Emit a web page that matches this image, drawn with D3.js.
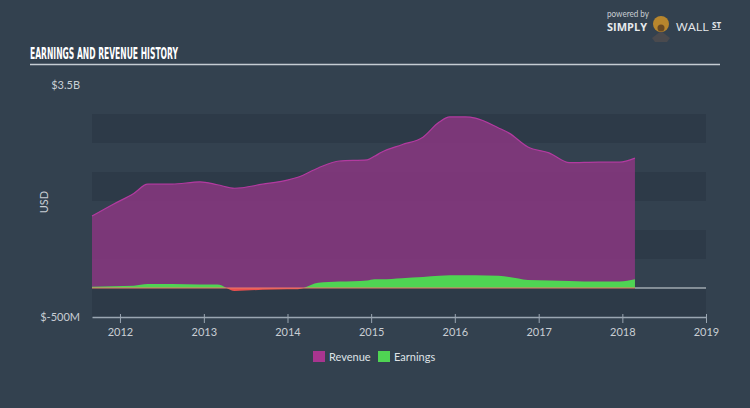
<!DOCTYPE html>
<html>
<head>
<meta charset="utf-8">
<script src="https://cdn.jsdelivr.net/npm/d3@7"></script>
<style>
  body { margin: 0; background: #33414f; }
  svg { display: block; }
</style>
</head>
<body>
<div id="chart"></div>
<script>
// data (values in $B)
const dates = ["2011-09-01","2011-12-01","2012-03-01","2012-05-01","2012-08-15","2012-12-15","2013-03-01",
  "2013-05-15","2013-09-15","2013-12-31","2014-02-15","2014-05-15","2014-08-15","2014-12-15","2015-01-15",
  "2015-02-15","2015-05-15","2015-08-15","2015-10-25","2015-12-10","2016-02-15","2016-03-31","2016-07-10",
  "2016-08-25","2016-11-15","2017-02-15","2017-05-15","2017-09-20","2017-12-20","2018-02-25"]
const revenue = [1.24,1.44,1.63,1.79,1.79,1.83,1.78,1.72,1.79,1.86,1.91,2.07,2.19,2.21,2.27,2.34,2.47,2.60,2.86,2.95,
  2.95,2.93,2.76,2.67,2.43,2.33,2.16,2.17,2.17,2.24]
const earnings = [0.02,0.03,0.04,0.07,0.07,0.06,0.06,-0.05,-0.03,-0.02,-0.02,0.09,0.11,0.13,0.15,0.15,0.17,0.19,0.21,
  0.22,0.22,0.22,0.21,0.19,0.14,0.13,0.12,0.11,0.11,0.15]
const yearTicks = [2012,2013,2014,2015,2016,2017,2018,2019]
const yLabels = ["$3.5B","$-500M"]

const w = 750, h = 408
const parse = d3.timeParse("%Y-%m-%d")
const rows = dates.map((d, i) => ({date: parse(d), rev: revenue[i], earn: earnings[i]}))

const svg = d3.select('#chart').append('svg').attr('width', w).attr('height', h)

svg.append('rect').attr('width', w).attr('height', h).attr('fill', '#33414f')

const x = d3.scaleTime()
  .domain([parse("2011-09-01"), new Date(2019, 0, 1)])
  .range([92, 706])
const y = d3.scaleLinear().domain([-0.5, 3.5]).range([317, 85])

// title (condensed look)
svg.append('text')
  .attr('x', 30).attr('y', 59)
  .attr('textLength', 148).attr('lengthAdjust', 'spacingAndGlyphs')
  .text('EARNINGS AND REVENUE HISTORY')
  .style('font-family', '"DejaVu Sans Condensed", "Liberation Sans Narrow", sans-serif')
  .style('font-weight', 'bold')
  .style('font-size', '16.5px')
  .style('fill', '#ffffff')
svg.append('line').attr('x1', 30).attr('x2', 720).attr('y1', 64.5).attr('y2', 64.5)
  .attr('stroke', '#c5ccd3').attr('stroke-width', 1.5)

// logo
svg.append('text').attr('x', 607).attr('y', 17).text('powered by')
  .attr('textLength', 42).attr('lengthAdjust', 'spacingAndGlyphs')
  .style('font-family', 'Lato, sans-serif').style('font-size', '9px').style('fill', '#c9ced4')
svg.append('text').attr('x', 607).attr('y', 31).text('SIMPLY')
  .attr('textLength', 40).attr('lengthAdjust', 'spacingAndGlyphs')
  .style('font-family', '"Open Sans", sans-serif').style('font-weight', 'bold').style('font-size', '11px').style('fill', '#e6e9ec')
svg.append('path').attr('d', 'M652 38 L661 31 L670 38 L667 42 L655 42 Z').attr('fill', '#4a4a4e')
svg.append('circle').attr('cx', 661).attr('cy', 24).attr('r', 8).attr('fill', '#b8862d')
svg.append('circle').attr('cx', 661).attr('cy', 28).attr('r', 3.5).attr('fill', '#6b4a22')
svg.append('text').attr('x', 676).attr('y', 31).text('WALL')
  .attr('textLength', 33).attr('lengthAdjust', 'spacingAndGlyphs')
  .style('font-family', '"Open Sans", sans-serif').style('font-size', '11px').style('fill', '#e6e9ec')
svg.append('text').attr('x', 712).attr('y', 28).text('ST')
  .style('font-family', '"Open Sans", sans-serif').style('font-weight', 'bold').style('font-size', '8px')
  .style('fill', '#e6e9ec').style('text-decoration', 'underline')

// bands
const bandStarts = [-0.5, 0.5, 1.5, 2.5]
svg.selectAll('rect.band').data(bandStarts).enter().append('rect')
  .attr('class', 'band')
  .attr('x', 92).attr('width', 706 - 92)
  .attr('y', d => y(d + 0.5)).attr('height', d => y(d) - y(d + 0.5))
  .attr('fill', '#2d3a48')

// revenue area
svg.append('path').datum(rows)
  .attr('d', d3.area().x(d => x(d.date)).y0(y(0)).y1(d => y(d.rev)).curve(d3.curveMonotoneX))
  .attr('fill', 'rgb(140,55,130)').attr('fill-opacity', 0.82)
svg.append('path').datum(rows)
  .attr('d', d3.line().x(d => x(d.date)).y(d => y(d.rev)).curve(d3.curveMonotoneX))
  .attr('fill', 'none').attr('stroke', '#b33aa0').attr('stroke-width', 1.2)

// earnings area, green above zero and red below
const defs = svg.append('defs')
defs.append('clipPath').attr('id', 'above').append('rect')
  .attr('x', 0).attr('y', 0).attr('width', w).attr('height', y(0))
defs.append('clipPath').attr('id', 'below').append('rect')
  .attr('x', 0).attr('y', y(0)).attr('width', w).attr('height', h)
const earnArea = d3.area().x(d => x(d.date)).y0(y(0)).y1(d => y(d.earn)).curve(d3.curveMonotoneX)
svg.append('path').datum(rows).attr('d', earnArea).attr('fill', '#4fd453').attr('clip-path', 'url(#above)')
svg.append('path').datum(rows).attr('d', earnArea).attr('fill', '#e8504f').attr('clip-path', 'url(#below)')

// zero line
const last = rows[rows.length - 1].date
svg.append('line').attr('x1', x(last)).attr('x2', 706).attr('y1', y(0)).attr('y2', y(0))
  .attr('stroke', '#d8dde2').attr('stroke-width', 1.2)
svg.append('line').attr('x1', 92).attr('x2', x(last)).attr('y1', y(0)).attr('y2', y(0))
  .attr('stroke', '#f07a6a').attr('stroke-width', 1.2)

// x axis
const xAxis = d3.axisBottom(x)
  .tickValues(yearTicks.map(t => new Date(t, 0, 1)))
  .tickFormat(d3.timeFormat('%Y'))
  .tickSize(6).tickSizeOuter(0)
const gx = svg.append('g').attr('transform', 'translate(0,' + 317 + ')').call(xAxis)
gx.select('.domain').attr('stroke', '#9aa6b2').attr('stroke-width', 1.5)
gx.selectAll('.tick line').attr('stroke', '#9aa6b2').attr('y1', -3)
gx.selectAll('.tick text')
  .style('font-family', 'Lato, sans-serif').style('font-size', '11px').style('fill', '#c9ced4')
  .attr('dy', '0.9em')

// y labels
svg.selectAll('text.ylab').data([3.5, -0.5]).enter().append('text')
  .attr('class', 'ylab')
  .attr('x', 80).attr('y', d => y(d)).attr('dy', '0.35em')
  .attr('text-anchor', 'end')
  .text((d, i) => yLabels[i])
  .style('font-family', 'Lato, sans-serif').style('font-size', '11px').style('fill', '#c9ced4')

svg.append('text')
  .attr('transform', 'translate(48,202) rotate(-90)')
  .attr('text-anchor', 'middle')
  .text('USD')
  .style('font-family', 'Lato, sans-serif').style('font-size', '11px').style('fill', '#c9ced4')

// legend
const legend = [{name: 'Revenue', color: '#a8358f', x: 313}, {name: 'Earnings', color: '#4fd453', x: 378}]
const lg = svg.selectAll('g.leg').data(legend).enter().append('g').attr('class', 'leg')
  .attr('transform', d => 'translate(' + d.x + ',351)')
lg.append('rect').attr('width', 12).attr('height', 11).attr('fill', d => d.color)
lg.append('text').attr('x', 16).attr('y', 9.5).text(d => d.name)
  .style('font-family', 'Lato, sans-serif').style('font-size', '11px').style('fill', '#dfe3e7')
</script>
</body>
</html>
